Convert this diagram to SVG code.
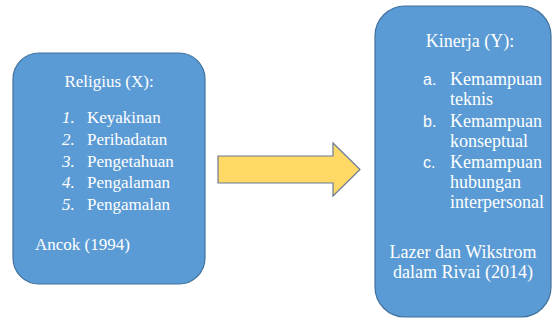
<svg xmlns="http://www.w3.org/2000/svg" width="553" height="320" viewBox="0 0 553 320">
<style>
.box{fill:#5B9BD5;stroke:#41719C;stroke-width:1.2}
text{fill:#FFFFFF}
.l{font-size:17px}
.r{font-size:18px}
.num{font-style:italic}
.sans{font-size:16px}
.arrow{fill:#FFD966;stroke:#6B7B94;stroke-width:1.2}
</style>
<rect width="553" height="320" fill="#FFFFFF"/>
<g id="religius" font-family="Liberation Serif, Times New Roman, serif">
<rect class="box" x="13" y="53" width="192" height="231" rx="26" ry="26"/>
<text class="l" x="109" y="87" text-anchor="middle">Religius (X):</text>
<text class="l num" x="62" y="123">1.</text><text class="l" x="87" y="123">Keyakinan</text>
<text class="l num" x="62" y="145">2.</text><text class="l" x="87" y="145">Peribadatan</text>
<text class="l num" x="62" y="167">3.</text><text class="l" x="87" y="167">Pengetahuan</text>
<text class="l num" x="62" y="188">4.</text><text class="l" x="87" y="188">Pengalaman</text>
<text class="l num" x="62" y="210">5.</text><text class="l" x="87" y="210">Pengamalan</text>
<text class="l" x="35" y="250">Ancok (1994)</text>
</g>
<g id="connectors">
<polygon class="arrow" points="218,156 333,156 333,143 360,169.5 333,196 333,183 218,183"/>
</g>
<g id="kinerja" font-family="Liberation Serif, Times New Roman, serif">
<rect class="box" x="375" y="6" width="176" height="311" rx="30" ry="30"/>
<text class="r" x="470" y="47" text-anchor="middle">Kinerja (Y):</text>
<text class="sans" font-family="Liberation Sans, Arial, sans-serif" x="423" y="85">a.</text><text class="r" x="450" y="85">Kemampuan</text>
<text class="r" x="450" y="105">teknis</text>
<text class="sans" font-family="Liberation Sans, Arial, sans-serif" x="423" y="127">b.</text><text class="r" x="450" y="127">Kemampuan</text>
<text class="r" x="450" y="147">konseptual</text>
<text class="sans" font-family="Liberation Sans, Arial, sans-serif" x="423" y="168">c.</text><text class="r" x="450" y="168">Kemampuan</text>
<text class="r" x="450" y="188">hubungan</text>
<text class="r" x="450" y="208">interpersonal</text>
<text class="r" x="463" y="258" text-anchor="middle">Lazer dan Wikstrom</text>
<text class="r" x="463" y="278" text-anchor="middle">dalam Rivai (2014)</text>
</g>
</svg>
